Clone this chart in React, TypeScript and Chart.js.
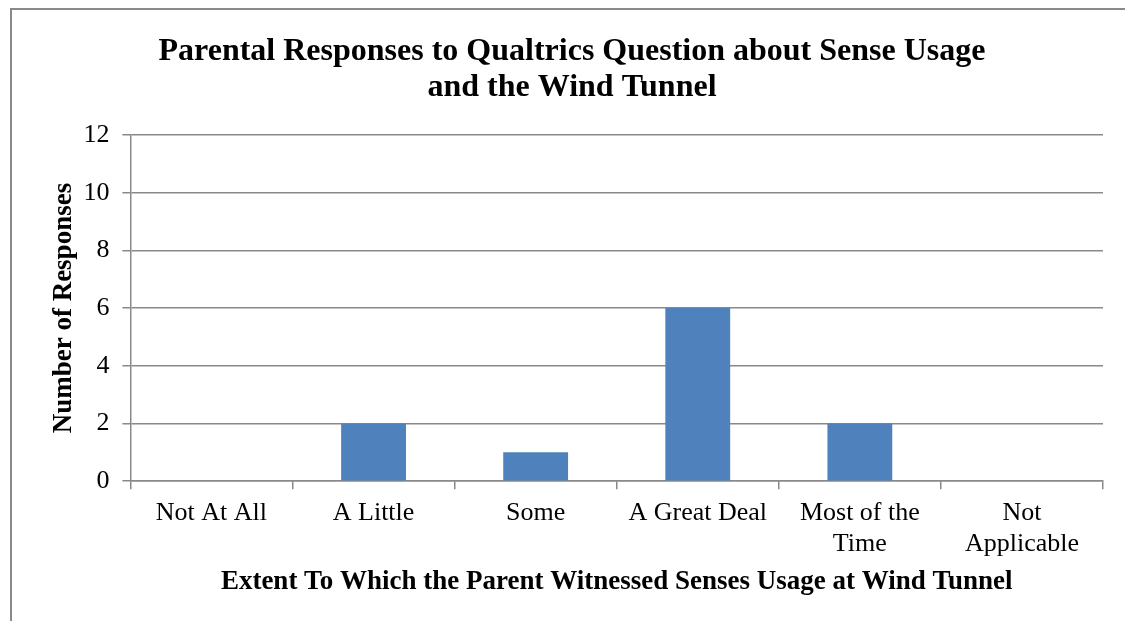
import React, { useEffect, useRef } from "react";
import { Chart, registerables } from "chart.js";

Chart.register(...registerables);

const categories: (string | string[])[] = [
  "Not At All",
  "A Little",
  "Some",
  "A Great Deal",
  ["Most of the", "Time"],
  ["Not", "Applicable"],
];
const responses: number[] = [0, 2, 1, 6, 2, 0];
const titleLines: string[] = [
  "Parental Responses to Qualtrics Question about Sense Usage",
  "and the Wind Tunnel",
];
const xTitle = "Extent To Which the Parent Witnessed Senses Usage at Wind Tunnel";
const yTitle = "Number of Responses";

const FONT = '"Liberation Serif", "Times New Roman", serif';
const GRAY = "#898989";

export default function App() {
  const ref = useRef<HTMLCanvasElement | null>(null);
  useEffect(() => {
    if (!ref.current) return;
    const chart = new Chart(ref.current, {
      type: "bar",
      data: {
        labels: categories,
        datasets: [
          {
            data: responses,
            backgroundColor: "#4F81BD",
            barPercentage: 0.4,
            categoryPercentage: 1,
          },
        ],
      },
      options: {
        animation: false,
        responsive: false,
        maintainAspectRatio: false,
        layout: { padding: { left: 29, right: 29, top: 0, bottom: 23 } },
        plugins: {
          legend: { display: false },
          tooltip: { enabled: false },
          title: {
            display: true,
            text: titleLines,
            color: "#000",
            font: { family: FONT, size: 32, weight: "bold", lineHeight: 1.125 },
            padding: { top: 24, bottom: 29 },
          },
        },
        scales: {
          x: {
            grid: {
              display: true,
              drawOnChartArea: false,
              drawTicks: true,
              tickLength: 8,
              color: GRAY,
              lineWidth: 1.5,
              offset: true,
            },
            border: { color: GRAY, width: 1.5 },
            ticks: {
              color: "#000",
              font: { family: FONT, size: 26, lineHeight: 1.2 },
              maxRotation: 0,
              autoSkip: false,
              padding: 8,
            },
            title: {
              display: true,
              text: xTitle,
              color: "#000",
              font: { family: FONT, size: 27, weight: "bold" },
              padding: { top: -2, bottom: 0 },
            },
          },
          y: {
            min: 0,
            max: 12,
            ticks: {
              stepSize: 2,
              color: "#000",
              font: { family: FONT, size: 26 },
              padding: 13,
            },
            grid: {
              color: GRAY,
              lineWidth: 1.5,
              drawTicks: true,
              tickLength: 8,
            },
            border: { color: GRAY, width: 1.5 },
            title: {
              display: true,
              text: yTitle,
              color: "#000",
              font: { family: FONT, size: 27, weight: "bold" },
              padding: { top: 7, bottom: -10 },
            },
          },
        },
      },
    });
    return () => chart.destroy();
  }, []);

  return (
    <div style={{ position: "fixed", inset: 0, overflow: "hidden", background: "#fff" }}>
      <div
        style={{
          position: "absolute",
          left: 10,
          top: 8,
          width: 1120,
          height: 640,
          border: `2px solid ${GRAY}`,
          background: "#fff",
        }}
      >
        <canvas ref={ref} width={1120} height={611} style={{ display: "block" }} />
      </div>
    </div>
  );
}
